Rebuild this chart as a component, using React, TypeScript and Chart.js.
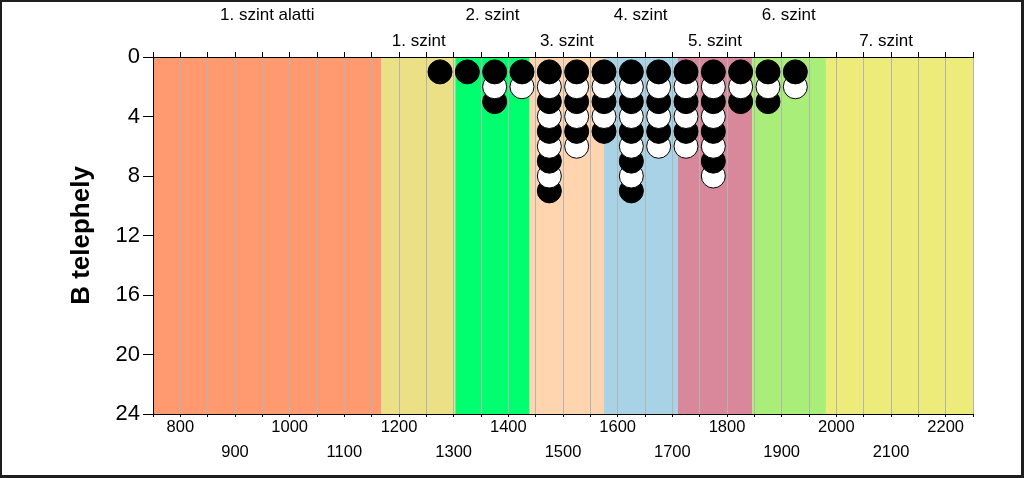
import React, { useEffect, useRef } from 'react';
import { Chart, registerables } from 'chart.js';

Chart.register(...registerables);

// ---- data ----
const binCenters = [1275, 1325, 1375, 1425, 1475, 1525, 1575, 1625, 1675, 1725, 1775, 1825, 1875, 1925];
const counts = [1, 1, 3, 2, 9, 6, 5, 9, 6, 6, 8, 3, 3, 2];

const bandEdges = [750, 1168, 1303, 1439, 1575, 1710, 1846, 1981, 2250];
const bandColors = ['#FF9970', '#EBE085', '#00FF6E', '#FFD5B0', '#A8D3E6', '#D9879B', '#A8EE78', '#EDEC7A'];

const zoneNames = ['1. szint alatti', '1. szint', '2. szint', '3. szint', '4. szint', '5. szint', '6. szint', '7. szint'];
const zoneCenters = [959, 1236, 1371, 1507, 1642, 1778, 1913, 2091];

const xTicksRow1 = [800, 1000, 1200, 1400, 1600, 1800, 2000, 2200];
const xTicksRow2 = [900, 1100, 1300, 1500, 1700, 1900, 2100];
const yTicks = [0, 4, 8, 12, 16, 20, 24];

const X_MIN = 750;
const X_MAX = 2250;

const FONT = '"Liberation Sans", Arial, Helvetica, sans-serif';

const bandsPlugin = {
  id: 'bands',
  beforeDraw(chart: any) {
    const { ctx, chartArea, scales } = chart;
    const x = scales.x;
    ctx.save();
    for (let i = 0; i < bandColors.length; i++) {
      const x0 = x.getPixelForValue(bandEdges[i]);
      const x1 = x.getPixelForValue(bandEdges[i + 1]);
      ctx.fillStyle = bandColors[i];
      ctx.fillRect(x0, chartArea.top, x1 - x0, chartArea.bottom - chartArea.top);
    }
    ctx.restore();
  },
};

export default function App() {
  const ref = useRef<HTMLCanvasElement>(null);

  useEffect(() => {
    const canvas = ref.current;
    if (!canvas) return;
    Chart.defaults.font.family = FONT;

    // stacked dots: drawn from the bottom of each stack upward so the upper dot overlaps the lower one
    const pts: { x: number; y: number }[] = [];
    const fills: string[] = [];
    const maxCount = Math.max(...counts);
    for (let k = maxCount; k >= 1; k--) {
      binCenters.forEach((xv, i) => {
        if (counts[i] >= k) {
          pts.push({ x: xv, y: k });
          fills.push(k % 2 === 1 ? '#000000' : '#ffffff');
        }
      });
    }

    const chart = new Chart(canvas, {
      type: 'scatter',
      data: {
        datasets: [
          {
            label: 'B telephely',
            data: pts,
            backgroundColor: fills,
            borderColor: '#000000',
            borderWidth: 1,
            pointRadius: 12,
            pointHoverRadius: 12,
          },
        ],
      },
      options: {
        animation: false,
        responsive: false,
        events: [],
        layout: { padding: { left: 0, right: 51, top: 0, bottom: 0 } },
        plugins: {
          legend: { display: false },
          tooltip: { enabled: false },
        },
        scales: {
          x: {
            type: 'linear',
            position: 'bottom',
            min: X_MIN,
            max: X_MAX,
            afterFit: (s: any) => {
              s.height = 64;
            },
            ticks: {
              stepSize: 50,
              autoSkip: false,
              maxRotation: 0,
              minRotation: 0,
              padding: -2.75,
              color: '#000',
              font: { size: 16.5, lineHeight: 25.5 / 16.5 },
              callback: (v: any) =>
                xTicksRow1.includes(v) ? String(v) : xTicksRow2.includes(v) ? ['', String(v)] : '',
            },
            grid: {
              drawOnChartArea: false,
              drawTicks: true,
              tickLength: 3,
              color: '#000',
              tickColor: '#000',
            },
            border: { display: true, color: '#000' },
          },
          x2: {
            type: 'linear',
            position: 'top',
            weight: 0,
            min: X_MIN,
            max: X_MAX,
            afterFit: (s: any) => {
              s.height = 0;
            },
            ticks: { stepSize: 50, display: false },
            grid: {
              drawOnChartArea: true,
              drawTicks: true,
              tickLength: 5,
              color: (c: any) => (c.tick && c.tick.value === X_MIN ? 'rgba(0,0,0,0)' : '#b4b4b4'),
              tickColor: '#000',
              lineWidth: 1,
            },
            border: { display: true, color: '#000' },
          },
          x3: {
            type: 'linear',
            position: 'top',
            weight: 1,
            min: X_MIN,
            max: X_MAX,
            afterBuildTicks: (s: any) => {
              s.ticks = zoneCenters.map((v) => ({ value: v }));
            },
            afterFit: (s: any) => {
              s.height = 57;
            },
            ticks: {
              autoSkip: false,
              maxRotation: 0,
              minRotation: 0,
              padding: 2.5,
              color: '#000',
              font: { size: 17, lineHeight: 26 / 17 },
              callback: (_v: any, i: number) => (i % 2 === 0 ? [zoneNames[i], ''] : zoneNames[i]),
            },
            grid: { display: false, drawTicks: false, tickLength: 0 },
            border: { display: false },
          },
          y: {
            type: 'linear',
            position: 'left',
            reverse: true,
            min: 0,
            max: 24,
            afterBuildTicks: (s: any) => {
              s.ticks = yTicks.map((v) => ({ value: v }));
            },
            afterFit: (s: any) => {
              s.width = 153;
            },
            ticks: { padding: 3, color: '#000', font: { size: 22 } },
            grid: {
              drawOnChartArea: false,
              drawTicks: true,
              tickLength: 10,
              color: '#000',
              tickColor: '#000',
            },
            border: { display: true, color: '#000' },
            title: {
              display: true,
              text: 'B telephely',
              color: '#000',
              font: { size: 26, weight: 'bold' },
              padding: { top: 66, bottom: 0 },
            },
          },
        },
      } as any,
      plugins: [bandsPlugin],
    });

    return () => chart.destroy();
  }, []);

  return (
    <div style={{ position: 'absolute', left: 0, top: 0, width: 1024, height: 478, background: '#fff' }}>
      <canvas ref={ref} width={1024} height={478} style={{ display: 'block' }} />
      <div
        style={{
          position: 'absolute',
          left: 0,
          top: 0,
          width: 1024,
          height: 478,
          boxSizing: 'border-box',
          borderStyle: 'solid',
          borderColor: '#1e1e1e',
          borderWidth: '2px 3px 3px 2px',
          pointerEvents: 'none',
        }}
      />
    </div>
  );
}
